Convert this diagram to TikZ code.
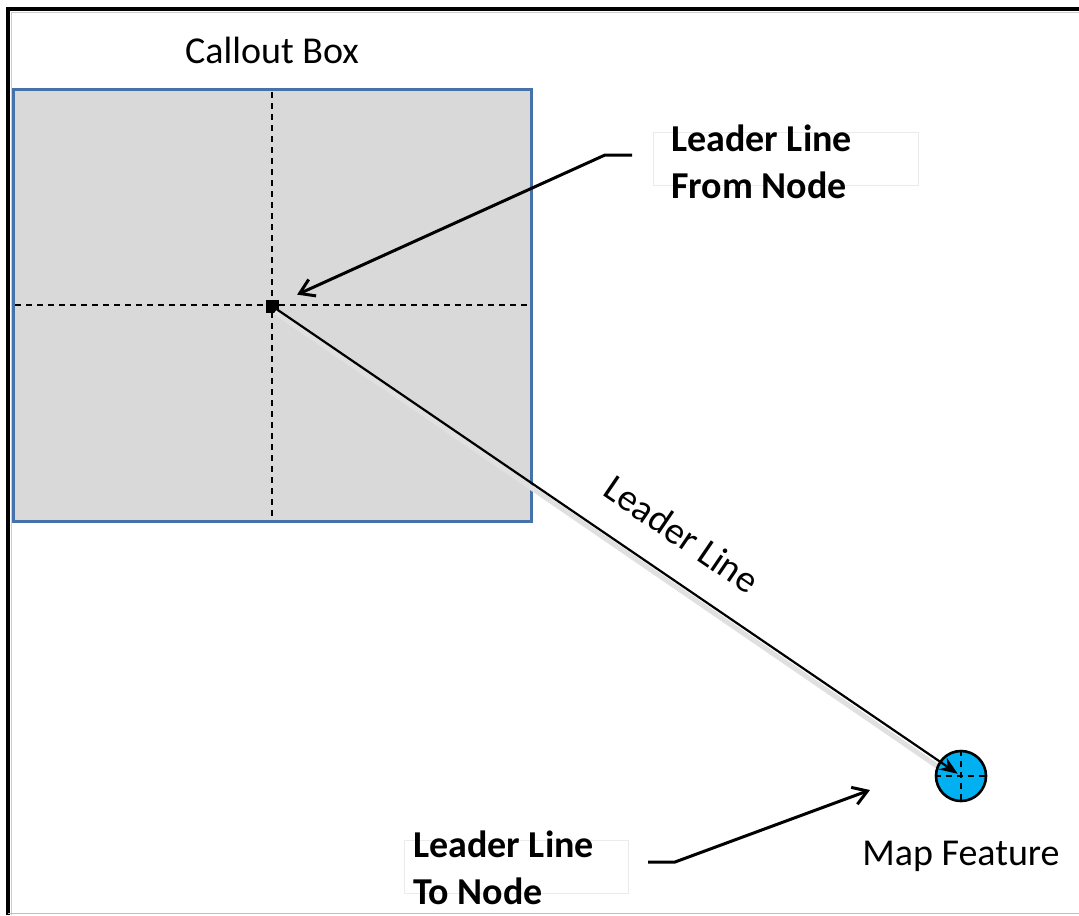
\documentclass[tikz,border=0pt]{standalone}
\usepackage{fontspec}
\setmainfont{Carlito}
\usepackage{tikz}
\usetikzlibrary{arrows.meta,calc,positioning}
\definecolor{boxfill}{RGB}{217,217,217}
\definecolor{boxedge}{RGB}{70,114,172}
\definecolor{feat}{RGB}{0,176,240}

\begin{document}
\begin{tikzpicture}[x=0.5pt,y=-0.5pt,
  lbl/.style={font=\fontsize{19}{23.5}\selectfont,inner sep=0pt},
  blbl/.style={lbl,font=\fontsize{19}{23.5}\selectfont\bfseries,align=left},
  cross/.style={densely dashed,line width=0.7pt,dash pattern=on 3pt off 2.5pt},
  pointer/.style={line width=1.5pt,-{Straight Barb[length=7pt,width=9pt]}}]
  \useasboundingbox (0,0) rectangle (1079,915);
  % frame
  \draw[line width=2pt] (8,915) -- (8,9) -- (1079,9);
  \draw[gray!40,line width=0.6pt] (11.5,915) -- (11.5,12.5) -- (1079,12.5);
  \draw[gray!50,line width=0.5pt] (8,913) -- (1079,913);
  % callout box
  \draw[fill=boxfill,draw=boxedge,line width=1.5pt] (13,90) rectangle (531,521);
  \draw[cross] (272,92) -- (272,519) (15,305) -- (529,305);
  \node[fill=black,minimum size=6.5pt,inner sep=0pt] (ctr) at (272,306) {};
  \node[lbl] (boxlbl) at (272,50) {Callout Box};
  % map feature
  \draw[black!12,line width=2.5pt] ($(ctr.center)+(3,6)$) -- ($(961,776)+(-24,-10)$);
  \node[circle,draw,line width=1.3pt,fill=feat,minimum size=25pt,inner sep=0pt] (mapf) at (961,776) {};
  \draw[cross,line width=0.6pt] (mapf.north) -- (mapf.south) (mapf.west) -- (mapf.east);
  \node[lbl,anchor=base] (maplbl) at (961,865) {Map Feature};
  % leader line
  \draw[line width=1.1pt,-{Stealth[length=9pt,width=7pt]},shorten >=2pt] (ctr.center) -- (mapf.center)
    node[lbl,sloped,above=14pt,pos=0.56] (leadlbl) {Leader Line};
  % labels with arrows
  \draw[black!8,line width=0.5pt] (653,132) rectangle (918,185);
  \node[blbl,anchor=west] (fromlbl) at (671,162) {Leader Line\\From Node};
  \coordinate (fromstart) at (632,155);
  \draw[pointer,shorten >=10pt] (fromstart) -- ++(-27,0) -- (ctr);
  \draw[black!8,line width=0.5pt] (404,840) rectangle (628,893);
  \node[blbl,anchor=west] (tolbl) at (413,868) {Leader Line\\To Node};
  \coordinate (tostart) at (648,862);
  \coordinate (totip) at (870,790);
  \draw[pointer] (tostart) -- ++(27,0) -- (totip);
\end{tikzpicture}
\end{document}
